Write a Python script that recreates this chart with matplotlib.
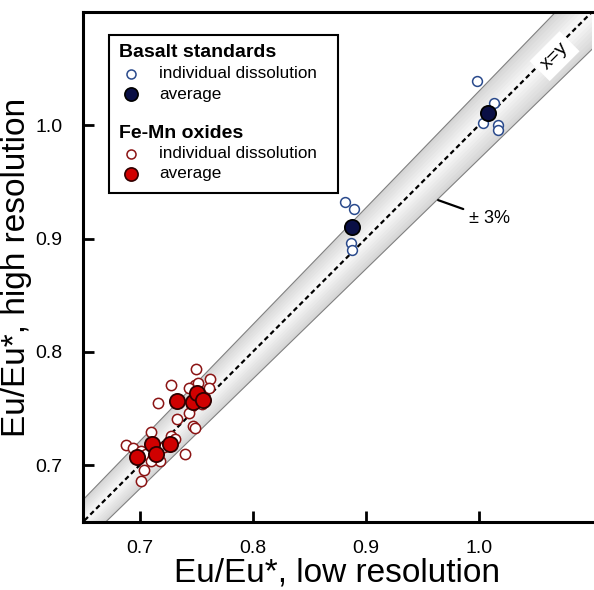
import numpy as np
import matplotlib.pyplot as plt
from matplotlib.patches import Rectangle
from matplotlib.lines import Line2D

plt.rcParams['font.family'] = ['Liberation Sans', 'DejaVu Sans']

# Basalt standards
basalt_ind_x = [0.882, 0.890, 0.887, 0.888, 0.998, 1.013, 1.004, 1.017, 1.017]
basalt_ind_y = [0.932, 0.926, 0.896, 0.890, 1.039, 1.020, 1.002, 1.000, 0.996]
basalt_avg_x = [0.888, 1.008]
basalt_avg_y = [0.910, 1.011]

# Fe-Mn oxides
femn_ind_x = [0.750, 0.728, 0.762, 0.761, 0.716, 0.749, 0.744, 0.752, 0.746, 0.744,
              0.733, 0.747, 0.749, 0.710, 0.728, 0.688, 0.694, 0.701, 0.706, 0.712,
              0.718, 0.710, 0.740, 0.704, 0.701, 0.756, 0.755, 0.722, 0.731]
femn_ind_y = [0.785, 0.771, 0.776, 0.768, 0.755, 0.771, 0.768, 0.773, 0.752, 0.746,
              0.741, 0.735, 0.733, 0.729, 0.726, 0.718, 0.715, 0.713, 0.710, 0.707,
              0.704, 0.704, 0.710, 0.696, 0.686, 0.760, 0.754, 0.716, 0.723]
femn_avg_x = [0.698, 0.711, 0.715, 0.727, 0.733, 0.747, 0.751, 0.756]
femn_avg_y = [0.707, 0.719, 0.710, 0.719, 0.757, 0.756, 0.764, 0.758]

lims = (0.65, 1.1)
ticks = [0.7, 0.8, 0.9, 1.0]
band = 0.03

fig = plt.figure(figsize=(5.94, 5.90), dpi=100)
ax = fig.add_axes([0.1397, 0.1153, 0.8568, 0.8644])

# +-3% band, lighter towards the 1:1 line
xx = np.linspace(0.6, 1.2, 50)
shades = np.linspace(0.84, 0.97, 8)
for f, g in zip(np.linspace(1.0, 0.15, 8), shades):
    ax.fill_between(xx, xx * (1 - band * f), xx * (1 + band * f), color=str(g), lw=0, zorder=1)
ax.plot(xx, xx * (1 - band), color='#808080', lw=0.8, zorder=2)
ax.plot(xx, xx * (1 + band), color='#808080', lw=0.8, zorder=2)
ax.plot(xx, xx, color='black', lw=1.6, ls=(0, (2.2, 1.5)), zorder=2)

ax.scatter(femn_ind_x, femn_ind_y, s=55, facecolor='white', edgecolor='#8b1414', lw=1.1, zorder=3)
ax.scatter(basalt_ind_x, basalt_ind_y, s=50, facecolor='white', edgecolor='#2a4a8c', lw=1.1, zorder=3)
ax.scatter(femn_avg_x, femn_avg_y, s=120, facecolor='#d00000', edgecolor='#300000', lw=1.3, zorder=4)
ax.scatter(basalt_avg_x, basalt_avg_y, s=120, facecolor='#0a0f45', edgecolor='black', lw=1.3, zorder=4)

ax.set_xlim(lims)
ax.set_ylim(lims)
ax.set_xticks(ticks)
ax.set_yticks(ticks)
ax.set_xticklabels([f'{t:.1f}' for t in ticks])
ax.set_yticklabels([f'{t:.1f}' for t in ticks])
ax.tick_params(direction='in', length=8, width=2, labelsize=14, pad=13)
ax.tick_params(axis='y', pad=15)
for s in ['left', 'bottom', 'top']:
    ax.spines[s].set_linewidth(2.2)
ax.spines['right'].set_visible(False)

ax.set_xlabel('Eu/Eu*, low resolution', fontsize=24, labelpad=0)
ax.set_ylabel('Eu/Eu*, high resolution', fontsize=24, labelpad=2)

# labels on the band
ax.text(1.067, 1.061, 'x=y', rotation=45, ha='center', va='center', fontsize=14,
        bbox=dict(facecolor='white', edgecolor='none', pad=4), zorder=5)
ax.annotate('± 3%', xy=(0.964, 0.934), xytext=(0.991, 0.918), fontsize=13,
            va='center', ha='left',
            arrowprops=dict(arrowstyle='-', color='black', lw=1.6, shrinkB=0, shrinkA=2))

# legend box
ax.add_patch(Rectangle((0.051, 0.646), 0.451, 0.309, transform=ax.transAxes,
                       facecolor='white', edgecolor='black', lw=1.5, zorder=6))
entries = [
    ('Basalt standards', None, 0.920),
    ('individual dissolution', dict(mfc='white', mec='#2a4a8c', ms=6.5, mew=1.1), 0.879),
    ('average', dict(mfc='#0a0f45', mec='black', ms=9.5, mew=1.2), 0.839),
    ('Fe-Mn oxides', None, 0.761),
    ('individual dissolution', dict(mfc='white', mec='#8b1414', ms=6.5, mew=1.1), 0.722),
    ('average', dict(mfc='#d00000', mec='#300000', ms=9.5, mew=1.2), 0.683),
]
for label, mk, y in entries:
    if mk is None:
        ax.text(0.071, y, label, transform=ax.transAxes, fontsize=14, fontweight='bold',
                va='center', ha='left', zorder=7)
    else:
        ax.add_line(Line2D([0.094], [y], marker='o', ls='none', transform=ax.transAxes,
                           zorder=7, **mk))
        ax.text(0.150, y, label, transform=ax.transAxes, fontsize=12.3, va='center',
                ha='left', zorder=7)

fig.savefig('out.png', dpi=100)
